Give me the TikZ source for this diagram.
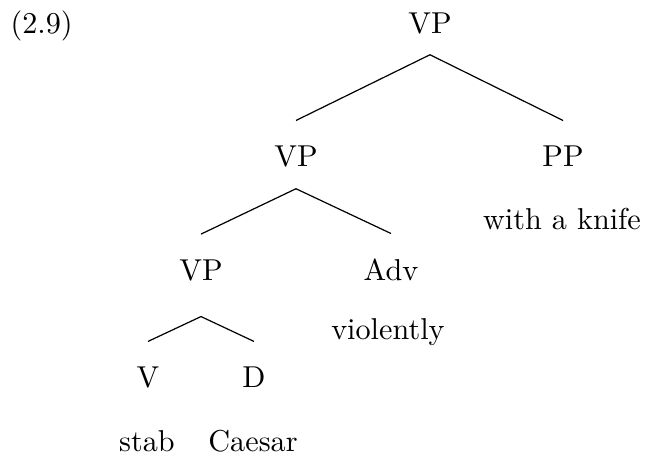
\documentclass[tikz,border=0pt]{standalone}
\usepackage{amsmath}
\usepackage{tikz}

\tikzset{
  cat/.style={anchor=base, inner xsep=0pt, inner ysep=7pt, text height=8.2pt, text depth=0pt},
  word/.style={anchor=base, inner sep=0pt}
}

\begin{document}
\begin{tikzpicture}
      \useasboundingbox (0,0) rectangle (7.505,-5.317);

      % Example number
      \node[word, anchor=base west] (exnum) at (0.116,-0.384) {(2.9)};

      % Category labels
      \node[cat] (vptop) at (5.003,-0.384) {VP};
      \node[cat] (vpmid) at (3.444,-1.943) {VP};
      \node[cat] (pp) at (6.551,-1.943) {PP};
      \node[cat] (vplow) at (2.339,-3.265) {VP};
      \node[cat] (adv) at (4.549,-3.258) {Adv};
      \node[cat] (v) at (1.722,-4.514) {V};
      \node[cat] (d) at (2.955,-4.514) {D};

      % Words under the categories
      \node[word] (knife) at (6.539,-2.676) {with a knife};
      \node[word] (violently) at (4.514,-3.956) {violently};
      \node[word] (stab) at (1.710,-5.259) {stab};
      \node[word] (caesar) at (2.944,-5.259) {Caesar};

      % Branches
      \coordinate (vplowfork) at ([yshift=-11.9pt]vplow.base);
      \draw (vptop.south) -- (vpmid.north);
      \draw (vptop.south) -- (pp.north);
      \draw (vpmid.south) -- (vplow.north);
      \draw (vpmid.south) -- (adv.north);
      \draw (vplowfork) -- (v.north);
      \draw (vplowfork) -- (d.north);
  \end{tikzpicture}
\end{document}
